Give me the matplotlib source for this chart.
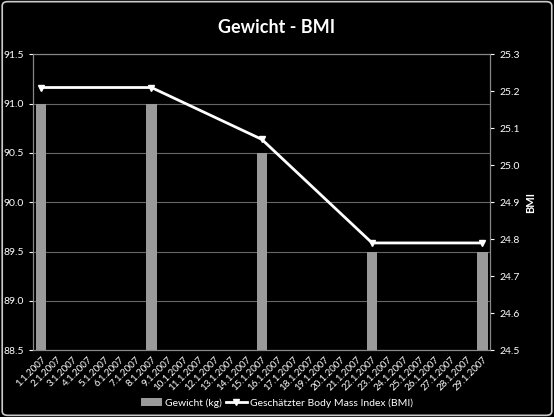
import matplotlib
matplotlib.use("Agg")
import matplotlib.pyplot as plt
import numpy as np
from matplotlib.patches import FancyBboxPatch

plt.rcParams['font.family'] = ['Lato', 'DejaVu Sans']

dates = [f"{d}.1.2007" for d in range(1, 30)]
meas_idx = [0, 7, 14, 21, 28]
weight = [91.0, 91.0, 90.5, 89.5, 89.5]
bmi = [25.21, 25.21, 25.07, 24.79, 24.79]

fig = plt.figure(figsize=(5.54, 4.17), dpi=100, facecolor='black')
border = FancyBboxPatch((0.004, 0.004), 0.992, 0.992, boxstyle="round,pad=0,rounding_size=0.01",
                        transform=fig.transFigure, fill=False, edgecolor='#cccccc', lw=1.2, zorder=10)
fig.patches.append(border)
ax = fig.add_axes([0.06, 0.16, 0.825, 0.71])
ax.set_facecolor('black')
ax.bar(meas_idx, [w - 88.5 for w in weight], bottom=88.5, width=0.65, color='#9a9a9a', zorder=2,
       label='Gewicht (kg)')
ax.set_ylim(88.5, 91.5)
ax.set_xlim(-0.5, 28.5)
ax.set_yticks(np.arange(88.5, 91.51, 0.5))
ax.set_yticklabels([f"{v:.1f}" for v in np.arange(88.5, 91.51, 0.5)])
ax.grid(axis='y', color='#666666', lw=0.8, zorder=0)
ax.set_axisbelow(True)
ax.set_xticks(range(29))
ax.set_xticklabels(dates, rotation=45, ha='right', rotation_mode='anchor')
ax2 = ax.twinx()
ax2.plot(meas_idx, bmi, color='white', lw=2, marker='v', markersize=5, zorder=3,
         label='Geschätzter Body Mass Index (BMI)')
ax2.set_ylim(24.5, 25.3)
ax2.set_yticks(np.arange(24.5, 25.31, 0.1))
ax2.set_yticklabels([f"{v:.1f}" for v in np.arange(24.5, 25.31, 0.1)])
ax2.set_ylabel('BMI', color='white', fontsize=8, fontweight='bold')
for a in (ax, ax2):
    a.tick_params(colors='white', labelsize=7.5, length=3)
    for s in a.spines.values():
        s.set_color('#888888')
    a.tick_params(axis='x', labelsize=7)
ax.tick_params(axis='x', length=0)
fig.suptitle('Gewicht - BMI', color='white', fontsize=13, fontweight='bold', y=0.955)
h1, l1 = ax.get_legend_handles_labels()
h2, l2 = ax2.get_legend_handles_labels()
fig.legend(h1 + h2, l1 + l2, loc='lower center', bbox_to_anchor=(0.5, 0.0), ncol=2, frameon=False,
           fontsize=7.5, labelcolor='white', handlelength=2, columnspacing=0.4, handletextpad=0.3)
fig.savefig('out.png', dpi=100, facecolor='black')
